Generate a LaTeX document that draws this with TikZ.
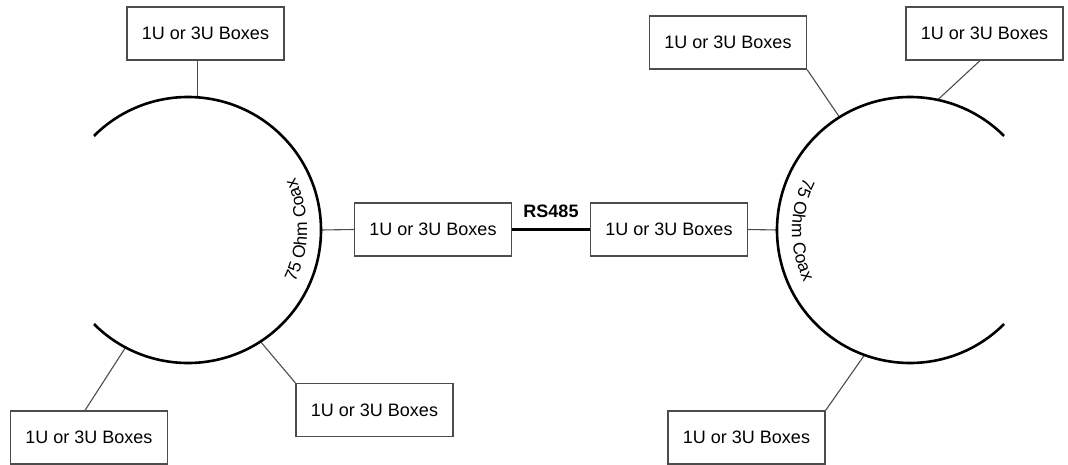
\documentclass[tikz,border=0pt]{standalone}
\usepackage{fontspec}
\setmainfont{Liberation Sans}
\usetikzlibrary{calc,decorations.text}
\begin{document}
\begin{tikzpicture}[x=1pt,y=1pt,
  unit/.style={draw=black!70, line width=1.3pt, minimum width=157pt, minimum height=53pt, inner sep=0pt, font=\fontsize{18}{21}\selectfont},
  coax/.style={line width=2.6pt, black},
  tap/.style={draw=black!70, line width=1.1pt},
  bus/.style={line width=2.6pt, black}]
\useasboundingbox (0,0) rectangle (1068,464);
\coordinate (lc) at (188,234);
\coordinate (rc) at (910,234);
\def\R{133}
% boxes
\node[unit] (ltop) at (205.5,430.5) {1U or 3U Boxes};
\node[unit] (llb)  at (89,26.5)     {1U or 3U Boxes};
\node[unit] (lrb)  at (374.5,54)    {1U or 3U Boxes};
\node[unit] (lmid) at (433,234.5)   {1U or 3U Boxes};
\node[unit] (rmid) at (669,234.5)   {1U or 3U Boxes};
\node[unit] (rtl)  at (728,421.5)   {1U or 3U Boxes};
\node[unit] (rtr)  at (984.5,430.5) {1U or 3U Boxes};
\node[unit] (rb)   at (746.5,26.5)  {1U or 3U Boxes};
% tap points on the rings
\coordinate (lt) at ($(lc)+(86:\R)$);
\coordinate (ll) at ($(lc)+(-118:\R)$);
\coordinate (lr) at ($(lc)+(-57:\R)$);
\coordinate (lm) at ($(lc)+(0:\R)$);
\coordinate (rm) at ($(rc)+(180:\R)$);
\coordinate (rtlp) at ($(rc)+(122:\R)$);
\coordinate (rtrp) at ($(rc)+(78:\R)$);
\coordinate (rbp) at ($(rc)+(-110:\R)$);
% connectors
\draw[tap] (lt |- ltop.south) -- (lt);
\draw[tap] (ll) -- ([xshift=-4pt]llb.north);
\draw[tap] (lr) -- (lrb.north west);
\draw[tap] (lm) -- (lmid.west);
\draw[tap] (rmid.east) -- (rm);
\draw[tap] (rtl.south east) -- (rtlp);
\draw[tap] ([xshift=-4.5pt]rtr.south) -- (rtrp);
\draw[tap] (rb.north east) -- (rbp);
\draw[bus] (lmid.east) -- node[above=7pt, font=\bfseries\fontsize{18}{21}\selectfont] (rs) {RS485} (rmid.west);
% rings
\draw[coax] ($(lc)+(135:\R)$) arc[start angle=135,end angle=-135,radius=\R];
\draw[coax] ($(rc)+(45:\R)$) arc[start angle=45,end angle=315,radius=\R];
% ring labels
\path[decorate,decoration={text along path,text align=center,text={|\fontsize{17.5}{20}\selectfont|75 Ohm Coax}}]
  ($(lc)+(-30:119)$) arc[start angle=-30,end angle=30,radius=119];
\path[decorate,decoration={text along path,text align=center,text={|\fontsize{17.5}{20}\selectfont|75 Ohm Coax}}]
  ($(rc)+(150:118)$) arc[start angle=150,end angle=210,radius=118];
\end{tikzpicture}
\end{document}
